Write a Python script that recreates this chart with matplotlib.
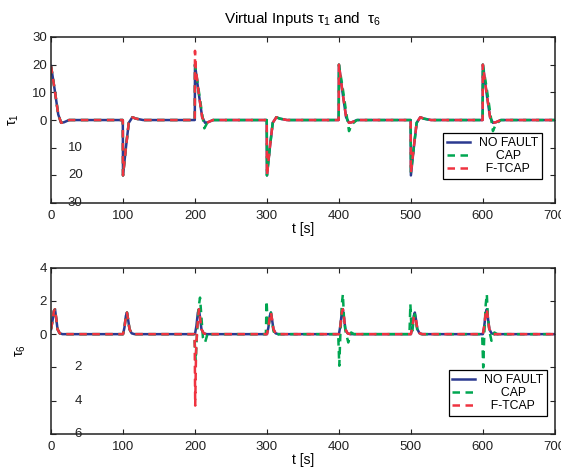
# Virtual inputs tau_1 and tau_6, three controller cases
import matplotlib
matplotlib.use('Agg')
from matplotlib import pyplot as plt
from matplotlib import transforms

plt.rcParams['font.family'] = ['Liberation Sans', 'DejaVu Sans']
plt.rcParams['mathtext.fontset'] = 'custom'
plt.rcParams['mathtext.rm'] = 'Liberation Sans'
plt.rcParams['mathtext.it'] = 'Liberation Sans'

# Series labels
labels = ['NO FAULT', 'CAP', 'F-TCAP']

# tau_1 - NO FAULT
t1_nf = [0, 5, 10, 14, 18, 25,
         99.7, 100, 104, 108, 113, 118, 128,
         199.7, 200, 205, 210, 214, 218, 225,
         299.7, 300, 304, 308, 313, 318, 328,
         399.7, 400, 405, 410, 414, 418, 425,
         499.7, 500, 504, 508, 513, 518, 528,
         599.7, 600, 605, 610, 614, 618, 625,
         700]
v1_nf = [19.5, 11, 2, -1, -0.8, 0,
         0, -20, -10, -1, 1, 0.5, 0,
         0, 20, 10, 1, -1, -0.8, 0,
         0, -20, -10, -1, 1, 0.5, 0,
         0, 20, 10, 1, -1, -0.8, 0,
         0, -20, -10, -1, 1, 0.5, 0,
         0, 20, 10, 1, -1, -0.8, 0,
         0]

# tau_1 - CAP
t1_cap = [0, 5, 10, 14, 18, 25,
          99.7, 100, 104, 108, 113, 118, 128,
          199.7, 200, 205, 210, 213, 217, 225,
          299.7, 300, 304, 308, 313, 318, 328,
          399.7, 400, 405, 410, 414, 418, 425,
          499.7, 500, 504, 508, 513, 518, 528,
          599.7, 600, 605, 610, 614, 618, 625,
          700]
v1_cap = [19.5, 11, 2, -1, -0.8, 0,
          0, -20, -10, -1, 1, 0.5, 0,
          0, 20, 11, 2, -3, -1, 0,
          0, -20, -10, -1, 1, 0.5, 0,
          0, 20, 12, 3, -4, -1.5, 0,
          0, -19, -10, -1, 1, 0.5, 0,
          0, 20, 12, 3, -4, -1.5, 0,
          0]

# tau_1 - F-TCAP
t1_ft = [0, 5, 10, 14, 18, 25,
         99.7, 100, 104, 108, 113, 118, 128,
         199.7, 200, 201, 205, 210, 214, 218, 225,
         299.7, 300, 304, 308, 313, 318, 328,
         399.7, 400, 405, 410, 414, 418, 425,
         499.7, 500, 504, 508, 513, 518, 528,
         599.7, 600, 605, 610, 614, 618, 625,
         700]
v1_ft = [19.5, 11, 2, -1, -0.8, 0,
         0, -20, -10, -1, 1, 0.5, 0,
         0, 25, 19, 10, 1, -1, -0.8, 0,
         0, -20, -10, -1, 1, 0.5, 0,
         0, 20, 10, 1, -1, -0.8, 0,
         0, -19, -10, -1, 1, 0.5, 0,
         0, 20, 10, 1, -1, -0.8, 0,
         0]

# tau_6 - NO FAULT
t6_nf = [0, 2, 4, 5.5, 7, 9, 12, 16,
         100, 102, 104, 105.5, 107, 109, 112, 116,
         200, 202, 204, 205.5, 207, 209, 212, 216,
         300, 302, 304, 305.5, 307, 309, 312, 316,
         400, 402, 404, 405.5, 407, 409, 412, 416,
         500, 502, 504, 505.5, 507, 509, 512, 516,
         600, 602, 604, 605.5, 607, 609, 612, 616,
         700]
v6_nf = [0.3, 0.8, 1.4, 1.5, 1.0, 0.3, 0.05, 0,
         0, 0.4, 1.1, 1.3, 0.9, 0.3, 0.05, 0,
         0, 0.5, 1.3, 1.5, 1.0, 0.3, 0.05, 0,
         0, 0.4, 1.1, 1.3, 0.9, 0.3, 0.05, 0,
         0, 0.5, 1.3, 1.5, 1.0, 0.3, 0.05, 0,
         0, 0.4, 1.1, 1.3, 0.9, 0.3, 0.05, 0,
         0, 0.5, 1.3, 1.5, 1.0, 0.3, 0.05, 0,
         0]

# tau_6 - CAP
t6_cap = [0, 2, 4, 5.5, 7, 9, 12, 16,
          100, 102, 104, 105.5, 107, 109, 112, 116,
          199, 201, 203, 205, 207, 209, 211, 214, 218, 222,
          298.5, 299.5, 300.5, 302, 304, 305.5, 307, 309, 312, 316,
          399, 400.5, 402, 404, 405.5, 407, 409, 413, 417, 421,
          498, 499.3, 500.5, 502, 504, 505.5, 507, 509, 512, 516,
          599, 600.5, 602, 604, 605.5, 607, 609, 612, 616, 620,
          700]
v6_cap = [0.3, 0.8, 1.4, 1.5, 1.0, 0.3, 0.05, 0,
          0, 0.4, 1.1, 1.3, 0.9, 0.3, 0.05, 0,
          0, -1.6, 0.2, 1.6, 2.2, 1.0, -0.2, -0.5, 0.1, 0,
          0, 2.0, 1.0, 0.4, 1.0, 1.3, 0.8, 0.2, -0.1, 0,
          0, -1.9, 0, 1.8, 2.4, 1.0, 0.2, -0.5, 0.1, 0,
          0, 1.8, 0.6, 0.2, 0.9, 1.2, 0.8, 0.2, 0, 0,
          0, -2.0, 0, 1.8, 2.4, 1.0, 0.2, -0.4, 0.1, 0,
          0]

# tau_6 - F-TCAP
t6_ft = [0, 2, 4, 5.5, 7, 9, 12, 16,
         100, 102, 104, 105.5, 107, 109, 112, 116,
         199.5, 200.3, 201.5, 203, 205.5, 207, 209, 212, 216,
         300, 302, 304, 305.5, 307, 309, 312, 316,
         400, 402, 404, 405.5, 407, 409, 412, 416,
         500, 502, 504, 505.5, 507, 509, 512, 516,
         600, 602, 604, 605.5, 607, 609, 612, 616,
         700]
v6_ft = [0.3, 0.8, 1.4, 1.5, 1.0, 0.3, 0.05, 0,
         0, 0.4, 1.1, 1.3, 0.9, 0.3, 0.05, 0,
         0, -4.3, -1, 0.3, 1.5, 1.0, 0.3, 0.05, 0,
         0, 0.4, 1.1, 1.3, 0.9, 0.3, 0.05, 0,
         0, 0.5, 1.3, 1.5, 1.0, 0.3, 0.05, 0,
         0, 0.4, 1.0, 1.1, 0.9, 0.3, 0.05, 0,
         0, 0.5, 1.3, 1.5, 1.0, 0.3, 0.05, 0,
         0]

# y ticks (MATLAB export lost the minus signs and shifted the negative labels)
y1_ticks = [-30, -20, -10, 0, 10, 20, 30]
y6_ticks = [-6, -4, -2, 0, 2, 4]

blue, green, red = '#2b3990', '#00a651', '#ef3340'

fig = plt.figure(figsize=(5.61, 4.68), dpi=100)
ax1 = fig.add_axes([0.091, 0.566, 0.898, 0.355])
ax2 = fig.add_axes([0.091, 0.073, 0.898, 0.355])


def style_axis(ax, ticks, ylab, lab_x, leg_anchor):
    ax.set_xlim(0, 700)
    ax.set_xticks(range(0, 701, 100))
    ax.set_ylim(ticks[0], ticks[-1])
    ax.set_yticks(ticks)
    ax.set_yticklabels([str(v) if v >= 0 else '' for v in ticks])
    ax.tick_params(direction='in', top=True, right=True, labelsize=9.5,
                   length=3.5, width=0.8, colors='#222222')
    ax.tick_params(axis='x', pad=5)
    ax.tick_params(axis='y', pad=3)
    for s in ax.spines.values():
        s.set_linewidth(1.1)
        s.set_color('#222222')
    # shifted negative labels without sign
    tr = transforms.blended_transform_factory(ax.transAxes, ax.transData)
    for v in ticks:
        if v < 0:
            ax.text(lab_x, v, str(-v), transform=tr, ha='center', va='center',
                    fontsize=9.5, color='#222222')
    ax.set_xlabel('t [s]', fontsize=10, labelpad=0)
    ax.set_ylabel(ylab, fontsize=10, labelpad=8)
    leg = ax.legend(loc='lower right', bbox_to_anchor=leg_anchor, borderaxespad=0,
                    fancybox=False, edgecolor='black', framealpha=1, fontsize=8.8,
                    handlelength=1.9, handletextpad=0.7, borderpad=0.3,
                    labelspacing=0.1)
    leg.get_frame().set_linewidth(0.9)


# top panel
ax1.plot(t1_nf, v1_nf, color=blue, lw=1.8, label=labels[0])
ax1.plot(t1_cap, v1_cap, color=green, lw=1.8, dashes=(3, 2.2), label='     ' + labels[1])
ax1.plot(t1_ft, v1_ft, color=red, lw=1.8, dashes=(3, 2.2), label='  ' + labels[2])
ax1.set_title('Virtual Inputs $\\tau_1$ and  $\\tau_6$', fontsize=11, pad=10)
style_axis(ax1, y1_ticks, '$\\tau_1$', 0.048, (0.974, 0.145))

# bottom panel
ax2.plot(t6_nf, v6_nf, color=blue, lw=1.8, label=labels[0])
ax2.plot(t6_cap, v6_cap, color=green, lw=1.8, dashes=(3, 2.2), label='     ' + labels[1])
ax2.plot(t6_ft, v6_ft, color=red, lw=1.8, dashes=(3, 2.2), label='  ' + labels[2])
style_axis(ax2, y6_ticks, '$\\tau_6$', 0.054, (0.984, 0.108))

fig.savefig('out.png', dpi=100)
